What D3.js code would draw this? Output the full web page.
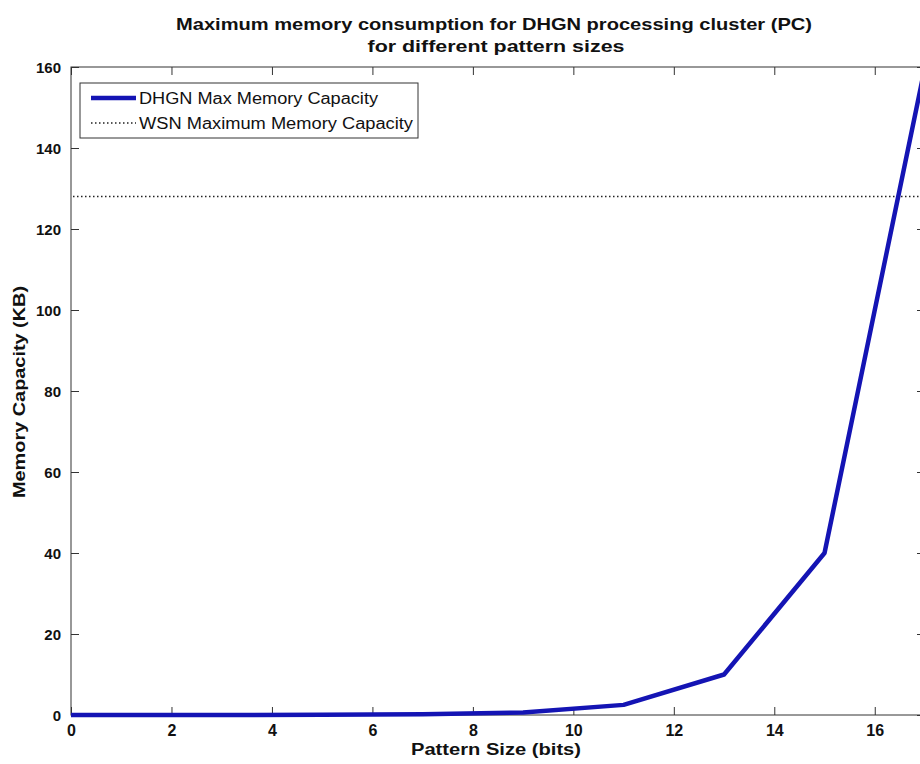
<!DOCTYPE html>
<html><head><meta charset="utf-8">
<script src="https://cdn.jsdelivr.net/npm/d3@7"></script>
<style>
html,body{margin:0;padding:0;background:#fff;}
svg{display:block;font-family:"Liberation Sans",Arial,sans-serif;}
</style></head>
<body><svg id="chart" width="920" height="764"></svg>
<script>
const patternBits = [0, 1, 3, 5, 7, 9, 11, 13, 15, 17];
const dhgnMemory = [0, 0.0024, 0.0098, 0.039, 0.156, 0.625, 2.5, 10, 40, 160];
const wsnMaxMemory = 128;
const xTicks = [0, 2, 4, 6, 8, 10, 12, 14, 16];
const yTicks = [0, 20, 40, 60, 80, 100, 120, 140, 160];
const titleLines = ["Maximum memory consumption for DHGN processing cluster (PC)", "for different pattern sizes"];
const seriesNames = ["DHGN Max Memory Capacity", "WSN Maximum Memory Capacity"];

const svg = d3.select("#chart");
const L = 71, R = 925, T = 67, B = 715;
const x = d3.scaleLinear().domain([0, 17]).range([L, R]);
const y = d3.scaleLinear().domain([0, 160]).range([B, T]);

// box
svg.append("rect").attr("x", L).attr("y", T).attr("width", R - L).attr("height", B - T)
  .attr("fill", "none").attr("stroke", "#333").attr("stroke-width", 1);

const tl = 8;
const ax = d3.axisBottom(x).tickValues(xTicks).tickSize(-tl).tickPadding(10).tickFormat(d3.format("d"));
const gx = svg.append("g").attr("transform", `translate(0,${B})`).call(ax);
const axT = d3.axisTop(x).tickValues(xTicks).tickSize(-tl).tickFormat("");
const gxt = svg.append("g").attr("transform", `translate(0,${T})`).call(axT);
const ay = d3.axisLeft(y).tickValues(yTicks).tickSize(-tl).tickPadding(10).tickFormat(d3.format("d"));
const gy = svg.append("g").attr("transform", `translate(${L},0)`).call(ay);
const ayR = d3.axisRight(y).tickValues(yTicks).tickSize(-tl).tickFormat("");
const gyr = svg.append("g").attr("transform", `translate(${R},0)`).call(ayR);
[gx, gxt, gy, gyr].forEach(g => {
  g.select(".domain").remove();
  g.selectAll(".tick line").attr("stroke", "#333");
  g.selectAll("text").attr("fill", "#111").attr("font-size", 15).attr("font-weight", "bold");
});
gx.selectAll("text").attr("font-size", 16).attr("dy", "0.71em");
gy.selectAll("text").attr("dy", "0.35em");

// WSN dotted line
svg.append("line").attr("x1", x(0) + 2).attr("x2", R).attr("y1", y(wsnMaxMemory)).attr("y2", y(wsnMaxMemory))
  .attr("stroke", "#222").attr("stroke-width", 1.5).attr("stroke-dasharray", "1.5,2.5");

// DHGN line
const line = d3.line().x((d, i) => x(patternBits[i])).y(d => y(d));
svg.append("path").datum(dhgnMemory).attr("d", line).attr("fill", "none")
  .attr("stroke", "#1414b4").attr("stroke-width", 4.5).attr("stroke-linejoin", "round");

function txt(xp, yp, s, size, len, bold) {
  return svg.append("text").attr("x", xp).attr("y", yp).attr("text-anchor", "middle")
    .attr("font-size", size).attr("font-weight", bold ? "bold" : "normal").attr("fill", "#111")
    .attr("textLength", len).attr("lengthAdjust", "spacingAndGlyphs").text(s);
}
// title
txt(494, 30, titleLines[0], 17, 636, true);
txt(496, 52, titleLines[1], 17, 257, true);

// axis labels
txt(496, 755, "Pattern Size (bits)", 16, 170, true);
svg.append("text").attr("transform", `translate(25,392) rotate(-90)`).attr("text-anchor", "middle")
  .attr("font-size", 16).attr("font-weight", "bold").attr("fill", "#111")
  .attr("textLength", 212).attr("lengthAdjust", "spacingAndGlyphs").text("Memory Capacity (KB)");

// legend
const lg = svg.append("g");
lg.append("rect").attr("x", 80).attr("y", 83).attr("width", 338).attr("height", 55)
  .attr("fill", "#fff").attr("stroke", "#333").attr("stroke-width", 1);
lg.append("line").attr("x1", 91).attr("x2", 136).attr("y1", 98).attr("y2", 98)
  .attr("stroke", "#1414b4").attr("stroke-width", 4.5);
lg.append("line").attr("x1", 91).attr("x2", 136).attr("y1", 123).attr("y2", 123)
  .attr("stroke", "#222").attr("stroke-width", 1.5).attr("stroke-dasharray", "1.5,2.5");
txt(139 + 239 / 2, 104, seriesNames[0], 16, 239, false);
txt(139 + 274 / 2, 129, seriesNames[1], 16, 274, false);
</script></body></html>
